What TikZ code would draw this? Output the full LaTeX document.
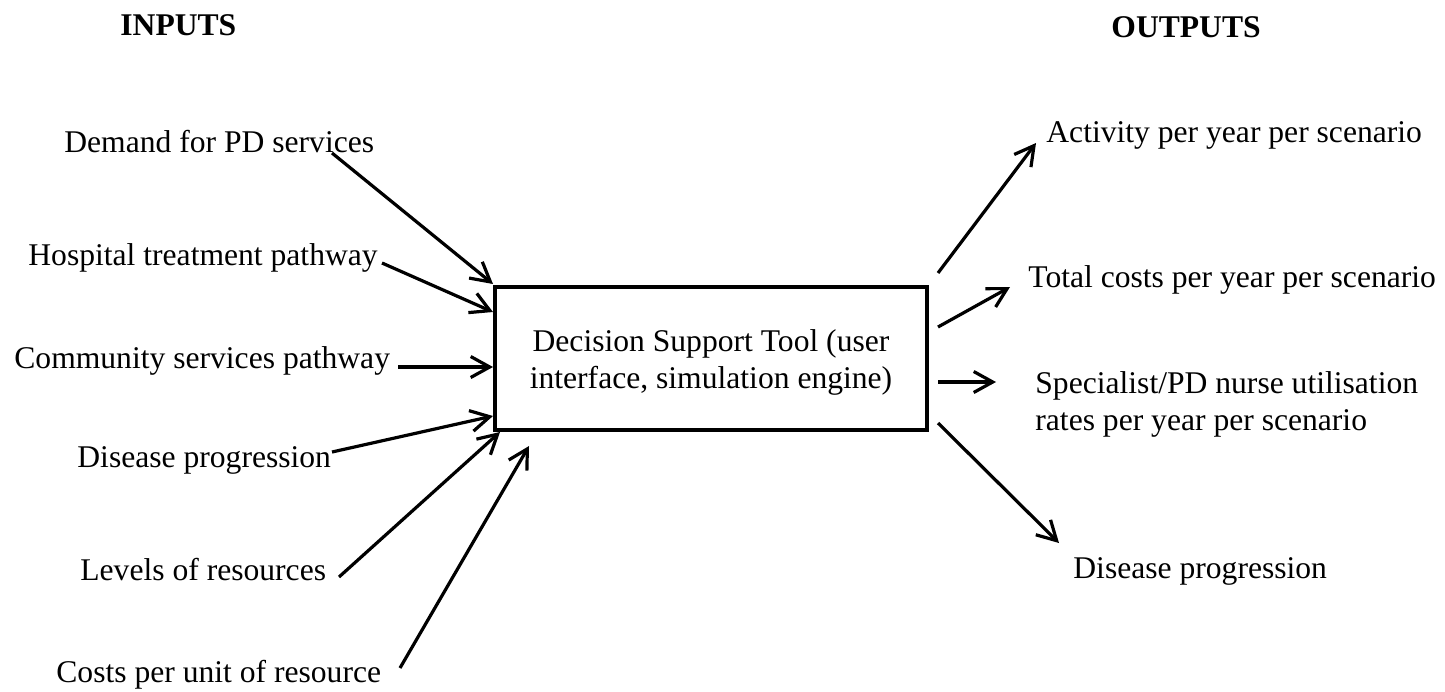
\documentclass[tikz,border=0pt]{standalone}
\usepackage{fontspec}
\setmainfont{Liberation Serif}
\usetikzlibrary{arrows.meta}
\begin{document}
\begin{tikzpicture}[x=0.5pt,y=-0.5pt,
  lbl/.style={inner sep=0pt, anchor=base west, font=\fontsize{15.8}{18.5}\selectfont},
  head/.style={inner sep=0pt, anchor=base west, font=\fontsize{15.8}{18.5}\selectfont\bfseries},
  mid/.style={inner sep=0pt, anchor=base, font=\fontsize{15.8}{18.5}\selectfont},
  box/.style={draw, line width=1.6pt, minimum width=216pt, minimum height=71.5pt, inner sep=0pt, outer sep=0pt},
  conn/.style={line width=1.6pt, -{Straight Barb[length=9.5pt,width=10.5pt]}}]
\useasboundingbox (0,0) rectangle (1445,691);

% headings
\node[head] (inh) at (120,35) {INPUTS};
\node[head] (outh) at (1111,37) {OUTPUTS};

% central box
\node[box] (dst) at (711,358.5) {};
\node[mid] (dst1) at (711,351) {Decision Support Tool (user};
\node[mid] (dst2) at (711,388) {interface, simulation engine)};

% inputs
\node[lbl] (i1) at (64,152) {Demand for PD services};
\node[lbl] (i2) at (28,265) {Hospital treatment pathway};
\node[lbl] (i3) at (14,368) {Community services pathway};
\node[lbl] (i4) at (77,467) {Disease progression};
\node[lbl] (i5) at (80,580) {Levels of resources};
\node[lbl] (i6) at (56,682) {Costs per unit of resource};

% outputs
\node[lbl] (o1) at (1046,142) {Activity per year per scenario};
\node[lbl] (o2) at (1028,287) {Total costs per year per scenario};
\node[lbl] (o3) at (1035,393) {Specialist/PD nurse utilisation};
\node[lbl] (o3b) at (1035,430) {rates per year per scenario};
\node[lbl] (o4) at (1073,578) {Disease progression};

% connector end points
\coordinate (s1) at (332,153);
\coordinate (t1) at (493,284);
\coordinate (s2) at (382,263);
\coordinate (t2) at (493,312);
\coordinate (s3) at (398,367);
\coordinate (t3) at (493,367);
\coordinate (s4) at (332,452);
\coordinate (t4) at (493,416);
\coordinate (s5) at (339,577);
\coordinate (t5) at (500,432);
\coordinate (s6) at (400,668);
\coordinate (t6) at (529,446);

\coordinate (u1) at (938,273);
\coordinate (v1) at (1036,143);
\coordinate (u2) at (938,327);
\coordinate (v2) at (1010,287);
\coordinate (u3) at (938,382);
\coordinate (v3) at (996,382);
\coordinate (u4) at (938,423);
\coordinate (v4) at (1059,543);

\draw[conn] (s1) -- (t1);
\draw[conn] (s2) -- (t2);
\draw[conn] (s3) -- (t3);
\draw[conn] (s4) -- (t4);
\draw[conn] (s5) -- (t5);
\draw[conn] (s6) -- (t6);

\draw[conn] (u1) -- (v1);
\draw[conn] (u2) -- (v2);
\draw[conn] (u3) -- (v3);
\draw[conn] (u4) -- (v4);
\end{tikzpicture}
\end{document}
